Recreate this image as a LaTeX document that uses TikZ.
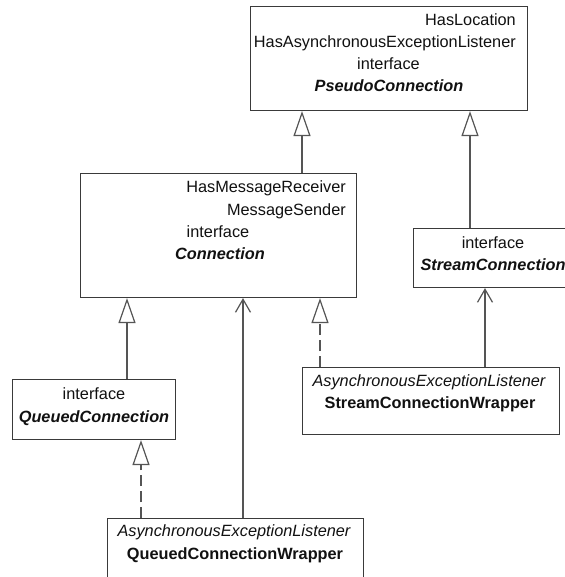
\documentclass[tikz,border=0pt]{standalone}
\usepackage{fontspec}
\setmainfont{Liberation Sans}
\usetikzlibrary{arrows.meta}

\definecolor{edge}{HTML}{3A3A3A}
\definecolor{wire}{HTML}{555555}
\definecolor{ink}{HTML}{111111}

\tikzset{
  box/.style={draw=edge, line width=1.1pt, fill=white, rectangle, inner sep=0pt, anchor=north west},
  txt/.style={inner sep=0pt, text=ink, font=\fontsize{16.3}{20}\selectfont},
  gen/.style={draw=wire, line width=1.2pt,
    -{Triangle[open, length=25pt, width=17pt, fill=white]}},
  real/.style={gen, dash pattern=on 11pt off 5pt},
  assoc/.style={draw=wire, line width=1.2pt,
    -{Straight Barb[length=13pt, width=15pt, line width=1.2pt]}},
}

\begin{document}
\begin{tikzpicture}[x=1pt, y=-1pt]
\useasboundingbox[fill=white] (0,0) rectangle (564,577);

% class boxes
\node[box, minimum width=277pt, minimum height=104pt] (pc)  at (250,6)   {};
\node[box, minimum width=276pt, minimum height=124pt] (cn)  at (80,173)  {};
\node[box, minimum width=160pt, minimum height=59pt]  (sc)  at (413,228) {};
\node[box, minimum width=163pt, minimum height=60pt]  (qc)  at (12,379)  {};
\node[box, minimum width=257pt, minimum height=67pt]  (scw) at (302,367) {};
\node[box, minimum width=256pt, minimum height=70pt]  (qcw) at (107,518) {};

% PseudoConnection
\node[txt, anchor=base east] (pc1) at (516,26) {HasLocation};
\node[txt, anchor=base east] (pc2) at (516,48) {HasAsynchronousExceptionListener};
\node[txt, anchor=base] (pc3) at (388.5,70) {interface};
\node[txt, anchor=base] (pc4) at (389,92) {\bfseries\itshape PseudoConnection};

% Connection
\node[txt, anchor=base east] (cn1) at (346,193) {HasMessageReceiver};
\node[txt, anchor=base east] (cn2) at (346,215) {MessageSender};
\node[txt, anchor=base] (cn3) at (218,237) {interface};
\node[txt, anchor=base] (cn4) at (220,259) {\bfseries\itshape Connection};

% StreamConnection
\node[txt, anchor=base] (sc1) at (493,248) {interface};
\node[txt, anchor=base] (sc2) at (493,270) {\bfseries\itshape StreamConnection};

% QueuedConnection
\node[txt, anchor=base] (qc1) at (94,399) {interface};
\node[txt, anchor=base] (qc2) at (94,422) {\bfseries\itshape QueuedConnection};

% StreamConnectionWrapper
\node[txt, anchor=base] (scw1) at (429,386) {\itshape AsynchronousExceptionListener};
\node[txt, anchor=base] (scw2) at (430,408) {\bfseries StreamConnectionWrapper};

% QueuedConnectionWrapper
\node[txt, anchor=base] (qcw1) at (234,536) {\itshape AsynchronousExceptionListener};
\node[txt, anchor=base] (qcw2) at (235,559) {\bfseries QueuedConnectionWrapper};

% x positions of the connectors
\coordinate (xa) at (302,0);
\coordinate (xb) at (470,0);
\coordinate (xc) at (127,0);
\coordinate (xd) at (320,0);
\coordinate (xe) at (141,0);
\coordinate (xf) at (243,0);
\coordinate (xg) at (485,0);

% generalisation
\draw[gen] (cn.north -| xa) -- (pc.south -| xa);
\draw[gen] (sc.north -| xb) -- (pc.south -| xb);
\draw[gen] (qc.north -| xc) -- (cn.south -| xc);

% realisation
\draw[real] (scw.north -| xd) -- (cn.south -| xd);
\draw[real] (qcw.north -| xe) -- (qc.south -| xe);

% association
\draw[assoc] (qcw.north -| xf) -- (cn.south -| xf);
\draw[assoc] (scw.north -| xg) -- (sc.south -| xg);
\end{tikzpicture}
\end{document}
